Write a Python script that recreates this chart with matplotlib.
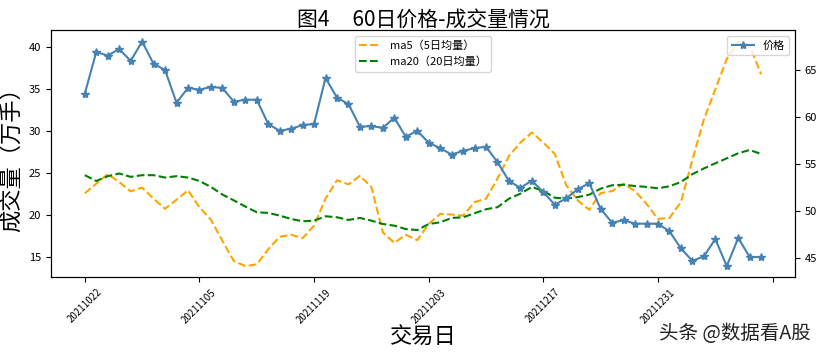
import matplotlib.pyplot as plt

plt.rcParams["font.family"] = ["Noto Sans CJK SC", "DejaVu Sans"]
plt.rcParams["axes.unicode_minus"] = False

# 价格 (right axis), 60 trading days starting 20211022
price = [
    62.48, 66.91, 66.52, 67.23, 65.96, 68.01, 65.64, 65.00, 61.52, 63.09,
    62.90, 63.20, 63.09, 61.63, 61.84, 61.84, 59.26, 58.54, 58.76, 59.15,
    59.26, 64.15, 62.05, 61.38, 58.97, 59.04, 58.86, 59.93, 57.90, 58.54,
    57.27, 56.70, 56.02, 56.41, 56.70, 56.84, 55.21, 53.22, 52.48, 53.26,
    52.02, 50.70, 51.38, 52.34, 52.98, 50.24, 48.79, 49.05, 48.68, 48.68,
    48.68, 47.87, 46.06, 44.74, 45.21, 47.05, 44.18, 47.16, 45.14, 45.14,
]

# 5日均量 (万手)
ma5 = [
    22.54, 23.70, 24.82, 23.89, 22.78, 23.22, 21.90, 20.70, 21.78, 22.90,
    20.89, 19.40, 16.89, 14.48, 13.88, 14.08, 15.89, 17.37, 17.61, 17.21,
    18.69, 21.90, 24.10, 23.60, 24.62, 23.30, 17.88, 16.65, 17.61, 16.97,
    18.89, 20.09, 20.01, 19.89, 21.49, 21.90, 24.30, 26.98, 28.58, 29.78,
    28.58, 27.22, 23.50, 21.70, 20.58, 22.57, 22.81, 23.66, 22.81, 21.29,
    19.49, 19.61, 21.49, 26.50, 31.31, 34.92, 38.52, 40.60, 40.12, 36.72,
]

# 20日均量 (万手)
ma20 = [
    24.70, 24.01, 24.58, 24.90, 24.50, 24.70, 24.70, 24.42, 24.58, 24.42,
    24.01, 23.30, 22.40, 21.70, 20.97, 20.29, 20.21, 19.89, 19.49, 19.21,
    19.29, 19.81, 19.69, 19.37, 19.61, 19.29, 18.89, 18.69, 18.29, 18.17,
    18.89, 19.09, 19.61, 19.69, 20.17, 20.65, 20.89, 21.90, 22.50, 23.30,
    22.81, 22.02, 21.90, 22.09, 22.38, 23.10, 23.50, 23.56, 23.41, 23.30,
    23.14, 23.38, 23.89, 24.82, 25.50, 26.11, 26.71, 27.31, 27.70, 27.22,
]

tick_positions = [0, 10, 20, 30, 40, 50, 60]
tick_labels = ["20211022", "20211105", "20211119", "20211203",
               "20211217", "20211231", ""]


def main() -> None:
    days = range(len(price))

    fig = plt.figure(figsize=(8.21, 3.53), dpi=100)
    ax1 = fig.add_axes([0.0621, 0.2144, 0.9062, 0.6996])

    ax1.plot(days, ma5, linestyle="--", color="orange", label="ma5（5日均量）")
    ax1.plot(days, ma20, linestyle="--", color="green", label="ma20（20日均量）")
    ax1.set_ylabel("成交量（万手）", fontsize=16)
    ax1.set_title("图4     60日价格-成交量情况", fontsize=15, pad=3)
    ax1.set_xticks(tick_positions)
    ax1.set_xticklabels(tick_labels, rotation=45, fontsize=7)
    ax1.tick_params(axis="y", labelsize=8)
    ax1.legend(loc="upper center", fontsize=8)

    # x label placed by hand so it stays inside the small canvas
    ax1.set_xlabel("交易日", fontsize=16, va="center")
    ax1.xaxis.set_label_coords(0.5, -0.245)

    ax2 = ax1.twinx()
    ax2.plot(days, price, marker="*", color="steelblue", label="价格")
    ax2.tick_params(axis="y", labelsize=8)
    ax2.legend(loc="upper right", fontsize=8)

    fig.text(0.988, 0.025, "头条 @数据看A股", ha="right", va="bottom",
             fontsize=14, color="#222222")

    fig.savefig("out.png", dpi=100)
    plt.close(fig)


if __name__ == "__main__":
    main()
